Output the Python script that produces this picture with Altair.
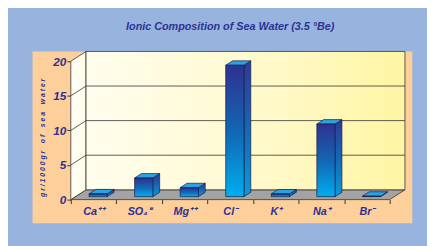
import json
import altair as alt
import pandas as pd

# ---- data ----
ions = ["Ca⁺⁺", "SO₄⁼", "Mg⁺⁺", "Cl⁻", "K⁺", "Na⁺", "Br⁻"]
values = [0.41, 2.7, 1.3, 19.0, 0.4, 10.5, 0.07]
y_ticks = [0, 5, 10, 15, 20]

title_text = "Ionic Composition of Sea Water (3.5 °Be)"
y_title_words = ["gr/1000gr", "of", "sea", "water"]
y_title = " \u00a0\u00a0 ".join(" ".join(w) for w in y_title_words)

# ---- styling / layout ----
NAVY = "#2e3192"
BLUE_BG = "#97b4de"
PEACH = "#fdcf9b"
FONT = "Liberation Sans"
W, H = 387, 175
N = len(ions)
XDOM = [-0.84, 7.495]
YDOM = [-3.404, 21.418]
DX = 0.334   # depth shift of the 3-D box (category units)
DY = 1.418   # depth shift of the 3-D box (value units)
F1, F2 = 0.3, 0.75  # bar depth placement
HW = 0.2            # half bar width
YMAX = max(y_ticks)
px_per_unit = W / (XDOM[1] - XDOM[0])


def grad(stops, vertical=True):
    return alt.LinearGradient(
        gradient="linear",
        stops=[alt.GradientStop(offset=o, color=c) for o, c in stops],
        x1=0, y1=0, x2=0 if vertical else 1, y2=1 if vertical else 0,
    )


xs = alt.Scale(domain=XDOM, nice=False, zero=False)
ys = alt.Scale(domain=YDOM, nice=False, zero=False)

XAXIS = alt.Axis(
    values=list(range(N + 1)),
    labelExpr=f"datum.value < {N} ? {json.dumps(ions, ensure_ascii=False)}[datum.value] : ''",
    labelOffset=px_per_unit / 2, offset=-24, domain=False, grid=False,
    tickColor="#333333", tickSize=4, labelFont=FONT, labelFontSize=11,
    labelFontStyle="italic", labelFontWeight="bold", labelColor=NAVY,
    labelPadding=2, labelOverlap=False, labelBound=False, labelFlush=False, title=None,
)
YAXIS = alt.Axis(
    values=y_ticks, offset=-39, domain=False, grid=False,
    tickColor="#333333", tickSize=4, labelFont=FONT, labelFontSize=12,
    labelFontStyle="italic", labelFontWeight="bold", labelColor=NAVY, labelPadding=1,
    title=y_title, titleFont=FONT, titleFontSize=7, titleFontStyle="italic",
    titleFontWeight="bold", titleColor=NAVY, titlePadding=7,
)


def X(f):
    return alt.X(f, type="quantitative", scale=xs, axis=XAXIS)


def Y(f):
    return alt.Y(f, type="quantitative", scale=ys, axis=YAXIS)


# floor
floor_df = pd.DataFrame([{"y": 0, "x": 0, "x2": N}, {"y": DY, "x": DX, "x2": N + DX}])
floor = alt.Chart(floor_df).mark_area(
    orient="horizontal", color="#a3a3a3", stroke="#333333", strokeWidth=0.8
).encode(y=Y("y"), x=X("x"), x2="x2")

# left wall
lw_df = pd.DataFrame([{"x": 0, "y": 0, "y2": YMAX}, {"x": DX, "y": DY, "y2": YMAX + DY}])
left_wall = alt.Chart(lw_df).mark_area(
    orient="vertical",
    color=grad([(0, "#fffef4"), (1, "#fffce8")], vertical=False),
    stroke="#333333", strokeWidth=0.8,
).encode(x=X("x"), y=Y("y"), y2="y2")

# back wall
bw_df = pd.DataFrame([{"x": DX, "x2": N + DX, "y": DY, "y2": YMAX + DY}])
back_wall = alt.Chart(bw_df).mark_rect(
    color=grad([(0, "#fffdee"), (0.5, "#fffad0"), (1, "#fff5a3")], vertical=False),
    stroke="#333333", strokeWidth=0.8,
).encode(x=X("x"), x2="x2", y=Y("y"), y2="y2")

# grid lines
gb_df = pd.DataFrame([{"x": DX, "x2": N + DX, "y": v + DY, "y2": v + DY} for v in y_ticks[1:-1]])
grid_back = alt.Chart(gb_df).mark_rule(color="#333333", strokeWidth=0.8).encode(
    x=X("x"), x2="x2", y=Y("y"), y2="y2")
gl_df = pd.DataFrame([{"x": 0, "x2": DX, "y": v, "y2": v + DY} for v in y_ticks[1:-1]])
grid_left = alt.Chart(gl_df).mark_rule(color="#333333", strokeWidth=0.8).encode(
    x=X("x"), x2="x2", y=Y("y"), y2="y2")

# bars
front_rows, side_rows, top_rows = [], [], []
for i, v in enumerate(values):
    c = i + 0.5
    front_rows.append({"x": c - HW + F1 * DX, "x2": c + HW + F1 * DX, "y": F1 * DY, "y2": v + F1 * DY})
    side_rows.append({"id": i, "x": c + HW + F1 * DX, "y": v + F1 * DY, "y2": F1 * DY})
    side_rows.append({"id": i, "x": c + HW + F2 * DX, "y": v + F2 * DY, "y2": F2 * DY})
    top_rows.append({"id": i, "y": v + F1 * DY, "x": c - HW + F1 * DX, "x2": c + HW + F1 * DX})
    top_rows.append({"id": i, "y": v + F2 * DY, "x": c - HW + F2 * DX, "x2": c + HW + F2 * DX})

side = alt.Chart(pd.DataFrame(side_rows)).mark_area(
    orient="vertical",
    color=grad([(0, "#2e3a96"), (0.5, "#1667b5"), (1, "#0a9ad9")]),
    stroke="#1a1a40", strokeWidth=0.7,
).encode(x=X("x"), y=Y("y"), y2="y2", detail="id:N")

top = alt.Chart(pd.DataFrame(top_rows)).mark_area(
    orient="horizontal", color="#2aa3e3", stroke="#1a1a40", strokeWidth=0.7,
).encode(y=Y("y"), x=X("x"), x2="x2", detail="id:N")

front = alt.Chart(pd.DataFrame(front_rows)).mark_rect(
    color=grad([(0, "#2e3192"), (0.5, "#1266b3"), (1, "#00aeef")]),
    stroke="#1a1a40", strokeWidth=0.7,
).encode(x=X("x"), x2="x2", y=Y("y"), y2="y2")

chart = alt.layer(
    floor, left_wall, back_wall, grid_back, grid_left, side, top, front
).properties(
    width=W, height=H,
    background=BLUE_BG,
    autosize=alt.AutoSizeParams(type="none"),
    padding={"left": 25, "top": 42, "right": 15, "bottom": 21},
    title=alt.TitleParams(
        text=title_text, font=FONT, fontSize=11, fontStyle="italic", fontWeight="bold",
        color=NAVY, anchor="middle", offset=18, dx=8,
    ),
).configure_view(fill=PEACH, stroke=None)

chart.save("out.html", embed_options={"renderer": "svg", "actions": False})
